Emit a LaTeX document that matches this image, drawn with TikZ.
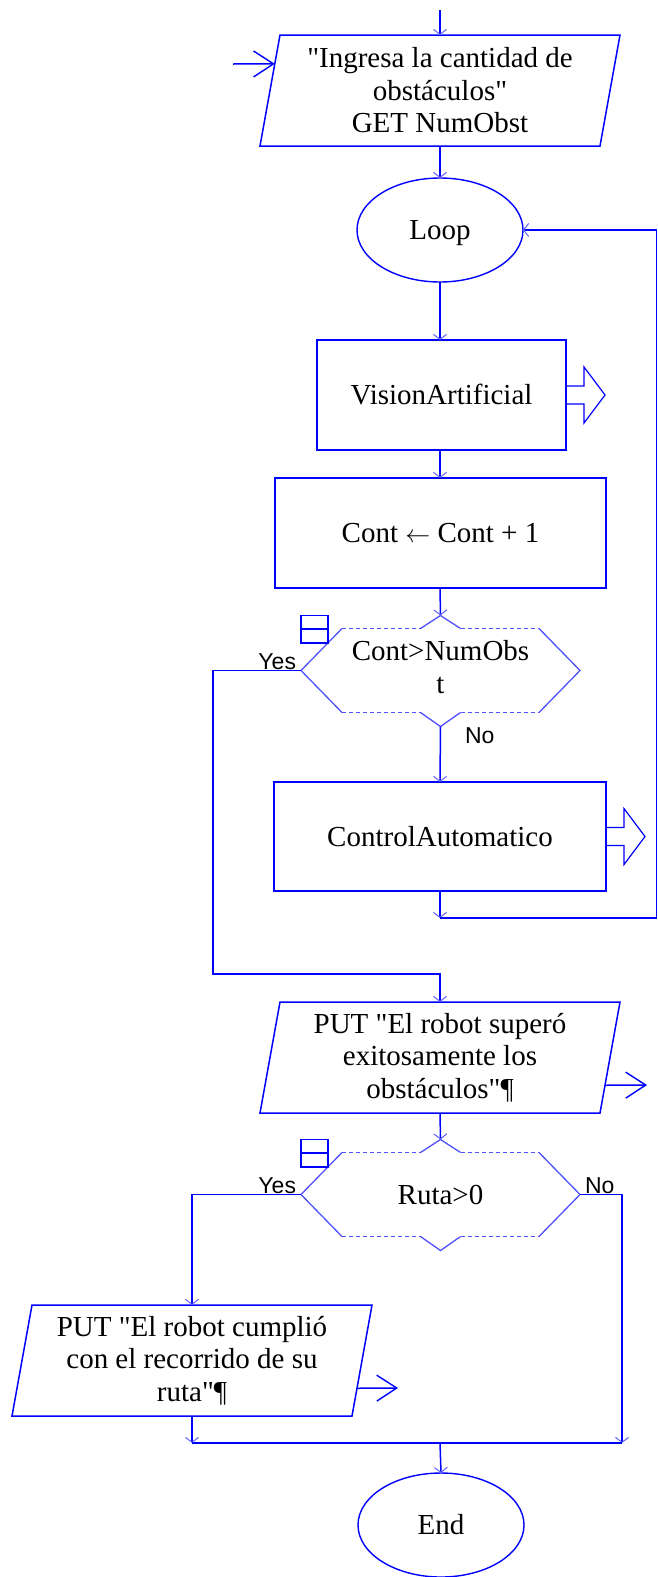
\documentclass[tikz,border=0pt]{standalone}
\usepackage{fontspec}
\setmainfont{Liberation Serif}[Ligatures=TeXOff]
\newfontfamily\labelfont{Liberation Sans}
\usetikzlibrary{arrows.meta,shapes.geometric,calc}

\definecolor{flowblue}{RGB}{0,0,255}
\definecolor{tipblue}{RGB}{95,95,255}
\definecolor{hexblue}{RGB}{80,80,255}

% input/output parallelogram drawn round a named rectangle node
\newcommand\ioshape[1]{%
  \coordinate (#1-tl) at ($(#1.north west)+(10,0)$);
  \coordinate (#1-tr) at ($(#1.north east)+(10,0)$);
  \coordinate (#1-br) at ($(#1.south east)+(-10,0)$);
  \coordinate (#1-bl) at ($(#1.south west)+(-10,0)$);
  \draw[edge] (#1-tl) -- (#1-tr) -- (#1-br) -- (#1-bl) -- cycle;}

% decision hexagon with notches, dotted top and bottom and the small icon
\newcommand\decshape[1]{%
  \coordinate (#1-in) at ($(#1.north)+(0,-13)$);
  \coordinate (#1-out) at ($(#1.south)+(0,14)$);
  \draw[hexline] ($(#1.north west)+(41,0)$) -- (#1.west) -- ($(#1.south west)+(41,0)$);
  \draw[hexline] ($(#1.north east)+(-41,0)$) -- (#1.east) -- ($(#1.south east)+(-41,0)$);
  \draw[hexline] ($(#1.north)+(-20,0)$) -- (#1-in) -- ($(#1.north)+(20,0)$);
  \draw[hexline] ($(#1.south)+(-20,0)$) -- (#1-out) -- ($(#1.south)+(20,0)$);
  \draw[hexdash] ($(#1.north west)+(41,0)$) -- ($(#1.north)+(-20,0)$);
  \draw[hexdash] ($(#1.north)+(20,0)$) -- ($(#1.north east)+(-41,0)$);
  \draw[hexdash] ($(#1.south west)+(41,0)$) -- ($(#1.south)+(-20,0)$);
  \draw[hexdash] ($(#1.south)+(20,0)$) -- ($(#1.south east)+(-41,0)$);
  \draw[iconline] ($(#1.north west)+(0,-13)$) rectangle ($(#1.north west)+(27,14.5)$);
  \draw[iconline] ($(#1.north west)+(0,0.5)$) -- ($(#1.north west)+(27,0.5)$);}

% hollow block arrow on the right side of a subroutine box
\newcommand\callarrow[1]{%
  \draw[fatline] ($(#1.east)+(0,-9)$) -- ++(18,0) -- ++(0,-19) -- ++(21,28)
    -- ++(-21,28) -- ++(0,-19) -- ++(-18,0);}

\begin{document}
\begin{tikzpicture}[x=1pt,y=-1pt,
  every node/.style={inner sep=0pt, outer sep=0pt, text=black,
    font=\fontsize{29}{32.5}\selectfont},
  edge/.style={draw=flowblue, line width=1.5pt},
  conn/.style={edge, -{Straight Barb[length=5pt,width=13pt,line width=1pt,color=tipblue]}},
  bigconn/.style={edge, -{Straight Barb[length=20pt,width=26pt,line width=1.4pt]}},
  hexline/.style={draw=hexblue, line width=1.3pt},
  hexdash/.style={draw=hexblue, line width=1.2pt, dash pattern=on 4pt off 3pt},
  iconline/.style={draw=flowblue, line width=1.3pt},
  fatline/.style={draw=flowblue, line width=1.2pt, line join=miter},
  procbox/.style={rectangle, draw=flowblue, line width=1.5pt, minimum height=110pt},
  term/.style={ellipse, draw=flowblue, line width=1.4pt, minimum width=166pt, minimum height=104pt},
  iobox/.style={rectangle, minimum width=340pt, minimum height=111pt, align=center},
  decbox/.style={rectangle, minimum width=279pt, minimum height=84pt, align=center},
  yn/.style={font=\labelfont\fontsize{23}{26}\selectfont},
]
\useasboundingbox (0,0) rectangle (658,1577);

% ---- nodes
\node[iobox] (in1) at (440,90.5)
  {"Ingresa la cantidad de\\obstáculos"\\GET NumObst};
\node[term, text depth=0pt] (loop) at (440,230) {Loop};
\node[procbox, minimum width=249pt] (vision) at (441.5,395) {VisionArtificial};
\node[procbox, minimum width=331pt] (incr) at (440.5,533) {Cont $\leftarrow$ Cont + 1};
\node[decbox, text depth=7pt] (dec1) at (440.5,670.5) {Cont>NumObs\\t};
\node[procbox, minimum width=332pt, minimum height=109pt] (ctrl) at (440,836.5) {ControlAutomatico};
\node[iobox] (put1) at (440,1057.5)
  {PUT "El robot superó\\exitosamente los\\obstáculos"¶};
\node[decbox] (dec2) at (440.5,1194.5) {Ruta>0};
\node[iobox] (put2) at (192,1360.5)
  {PUT "El robot cumplió\\con el recorrido de su\\ruta"¶};
\node[term] (end) at (441,1525) {End};

\ioshape{in1}
\ioshape{put1}
\ioshape{put2}
\decshape{dec1}
\decshape{dec2}
\callarrow{vision}
\callarrow{ctrl}

% ---- branch labels
\node[yn, anchor=base east] (yes1) at (296,669) {Yes};
\node[yn, anchor=base west] (no1) at (465,743) {No};
\node[yn, anchor=base east] (yes2) at (296,1193) {Yes};
\node[yn, anchor=base west] (no2) at (585,1193) {No};

% ---- free ends and junctions
\coordinate (top) at (440,10);
\coordinate (inflow) at (233,64);
\coordinate (back) at (440,918);
\coordinate (backr) at (656.5,918);
\coordinate (yesjoin) at (213,974);
\coordinate (out1) at (647,1085);
\coordinate (out2) at (398,1388);
\coordinate (mergel) at (192,1443);
\coordinate (merger) at (622,1443);
\coordinate (mergec) at (440,1443);

% ---- connectors
\draw[conn] (top) -- (in1.north);
\draw[bigconn] (inflow) -- ($(in1-tl)!0.26!(in1-bl)$);
\draw[conn] (in1.south) -- (loop.north);
\draw[conn] (loop.south) -- (vision.north -| loop.south);
\draw[conn] (vision.south -| loop.south) -- (incr.north -| loop.south);
\draw[conn] (incr.south -| loop.south) -- (dec1-in);
\draw[conn] (dec1-out) -- (ctrl.north);
\draw[conn] (ctrl.south) -- (back);
\draw[conn] (back) -- (backr) |- (loop.east);
\draw[conn] (dec1.west) -| (yesjoin) -| (put1.north);
\draw[bigconn] ($(put1-tr)!0.75!(put1-br)$) -- (out1);
\draw[conn] (put1.south) -- (dec2-in);
\draw[conn] (dec2.west) -| (put2.north);
\draw[conn] (dec2.east) -| (merger);
\draw[bigconn] ($(put2-tr)!0.75!(put2-br)$) -- (out2);
\draw[conn] (put2.south) -- (mergel);
\draw[edge] (mergel) -- (merger);
\draw[conn] (mergec) -- (end.north);
\end{tikzpicture}
\end{document}
